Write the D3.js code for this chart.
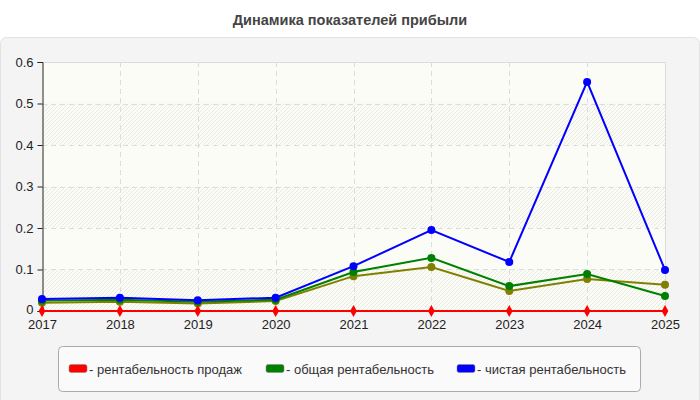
<!DOCTYPE html>
<html>
<head>
<meta charset="utf-8">
<script src="https://cdn.jsdelivr.net/npm/d3@7"></script>
<style>
  body { margin: 0; background: #fff; }
  text { font-family: "Liberation Sans", Arial, sans-serif; }
</style>
</head>
<body>
<svg id="chart" width="700" height="400"></svg>
<script>
// Données
const years = [2017, 2018, 2019, 2020, 2021, 2022, 2023, 2024, 2025];
const yTicks = [0, 0.1, 0.2, 0.3, 0.4, 0.5, 0.6];
const salesProfit = [0, 0, 0, 0, 0, 0, 0, 0, 0];
const totalProfit = [0.025, 0.027, 0.022, 0.027, 0.094, 0.128, 0.060, 0.089, 0.036];
const netProfit = [0.029, 0.032, 0.026, 0.032, 0.108, 0.195, 0.118, 0.552, 0.099];
const otherProfit = [0.020, 0.022, 0.018, 0.024, 0.084, 0.106, 0.048, 0.077, 0.063];
const legendLabels = ["- рентабельность продаж", "- общая рентабельность", "- чистая рентабельность"];

const svg = d3.select("#chart");

// Titre
svg.append("text")
    .attr("x", 350).attr("y", 25)
    .attr("text-anchor", "middle")
    .style("font-size", "14.5px").style("font-weight", "bold")
    .style("fill", "#444")
    .text("Динамика показателей прибыли");

// Panneau de fond
svg.append("rect")
    .attr("x", 0.5).attr("y", 37.5).attr("width", 699).attr("height", 370)
    .attr("rx", 6)
    .attr("fill", "#f4f4f4").attr("stroke", "#e2e2e2");

const x = d3.scalePoint().domain(years).range([42, 665]);
const y = d3.scaleLinear().domain([0, 0.6]).range([311, 62]);

// Motif hachuré
const defs = svg.append("defs");
const pat = defs.append("pattern")
    .attr("id", "hatch").attr("patternUnits", "userSpaceOnUse")
    .attr("width", 4).attr("height", 4);
pat.append("path").attr("d", "M0,4 L4,0 M-1,1 L1,-1 M3,5 L5,3")
    .attr("stroke", "#e6e6e0").attr("stroke-width", 0.8);

const plot = svg.append("g");
plot.append("rect")
    .attr("x", x(2017)).attr("y", y(0.6))
    .attr("width", x(2025) - x(2017)).attr("height", y(0) - y(0.6))
    .attr("fill", "#fcfcf6");

// Bandes alternées
plot.selectAll(".band")
    .data(yTicks.slice(0, -1).filter((d, i) => i % 2 === 0))
    .enter().append("rect")
    .attr("x", x(2017)).attr("y", d => y(d + 0.1))
    .attr("width", x(2025) - x(2017)).attr("height", d => y(d) - y(d + 0.1))
    .attr("fill", "url(#hatch)");

// Grille
plot.selectAll(".hgrid")
    .data(yTicks.slice(1, -1))
    .enter().append("line")
    .attr("x1", x(2017)).attr("x2", x(2025))
    .attr("y1", d => Math.round(y(d)) + 0.5).attr("y2", d => Math.round(y(d)) + 0.5)
    .attr("stroke", "#dcdcdc").attr("stroke-dasharray", "5,4");

plot.selectAll(".vgrid")
    .data(years.slice(1, -1))
    .enter().append("line")
    .attr("x1", d => Math.round(x(d)) + 0.5).attr("x2", d => Math.round(x(d)) + 0.5)
    .attr("y1", y(0.6)).attr("y2", y(0))
    .attr("stroke", "#dcdcdc").attr("stroke-dasharray", "5,4");

// Bordures haut et droite
plot.append("line")
    .attr("x1", x(2017)).attr("x2", x(2025))
    .attr("y1", y(0.6) + 0.5).attr("y2", y(0.6) + 0.5)
    .attr("stroke", "#dcdcdc");
plot.append("line")
    .attr("x1", x(2025) + 0.5).attr("x2", x(2025) + 0.5)
    .attr("y1", y(0.6)).attr("y2", y(0))
    .attr("stroke", "#dcdcdc");

// Axes
const yAxis = svg.append("g")
    .attr("transform", `translate(${x(2017) + 0.5},0)`)
    .call(d3.axisLeft(y).tickValues(yTicks).tickSize(5).tickPadding(4)
        .tickFormat(d => d === 0 ? "0" : d3.format(".1f")(d)));
yAxis.select(".domain").attr("stroke", "#222");
yAxis.selectAll(".tick line").attr("stroke", "#222");
yAxis.selectAll("text").style("font-size", "13px").style("fill", "#222");
// léger décalage du "0" pour ne pas chevaucher "2017"
yAxis.selectAll(".tick text").filter(d => d === 0).attr("dy", "0.2em");

const xAxis = svg.append("g")
    .attr("transform", `translate(0,${y(0)})`)
    .call(d3.axisBottom(x).tickSize(0).tickPadding(9));
xAxis.select(".domain").attr("stroke", "#222");
xAxis.selectAll("text").style("font-size", "13px").style("fill", "#222");

// Séries
const series = [
  { values: otherProfit, color: "#808000", shape: "circle" },
  { values: totalProfit, color: "#008000", shape: "circle" },
  { values: netProfit, color: "#0000ff", shape: "circle" },
  { values: salesProfit, color: "#ff0000", shape: "diamond" }
];

const line = d3.line().x((d, i) => x(years[i])).y(d => y(d));

series.forEach(s => {
  svg.append("path")
      .datum(s.values)
      .attr("d", line)
      .attr("fill", "none")
      .attr("stroke", s.color)
      .attr("stroke-width", 2);

  if (s.shape === "circle") {
    svg.selectAll(null)
        .data(s.values)
        .enter().append("circle")
        .attr("cx", (d, i) => x(years[i]))
        .attr("cy", d => y(d))
        .attr("r", 4)
        .attr("fill", s.color);
  } else {
    svg.selectAll(null)
        .data(s.values)
        .enter().append("path")
        .attr("d", d3.symbol().type(d3.symbolDiamond).size(40))
        .attr("transform", (d, i) => `translate(${x(years[i])},${y(d)})`)
        .attr("fill", s.color);
  }
});

// Légende
svg.append("rect")
    .attr("x", 58.5).attr("y", 346.5).attr("width", 582).attr("height", 45)
    .attr("rx", 4)
    .attr("fill", "#fafafa").attr("stroke", "#aaaaaa");

const legendColors = ["#ff0000", "#008000", "#0000ff"];
const legendX = [69, 266, 457];

const legend = svg.selectAll(".legend")
    .data(legendLabels)
    .enter().append("g")
    .attr("class", "legend")
    .attr("transform", (d, i) => `translate(${legendX[i]},369)`);

legend.append("rect")
    .attr("x", 0).attr("y", -4.5)
    .attr("width", 18).attr("height", 8)
    .attr("rx", 2)
    .attr("fill", (d, i) => legendColors[i])
    .attr("stroke", "#888").attr("stroke-width", 0.5);

legend.append("text")
    .attr("x", 20).attr("y", 0)
    .attr("dy", ".35em")
    .style("font-size", "13px")
    .style("fill", "#333")
    .text(d => d);
</script>
</body>
</html>
